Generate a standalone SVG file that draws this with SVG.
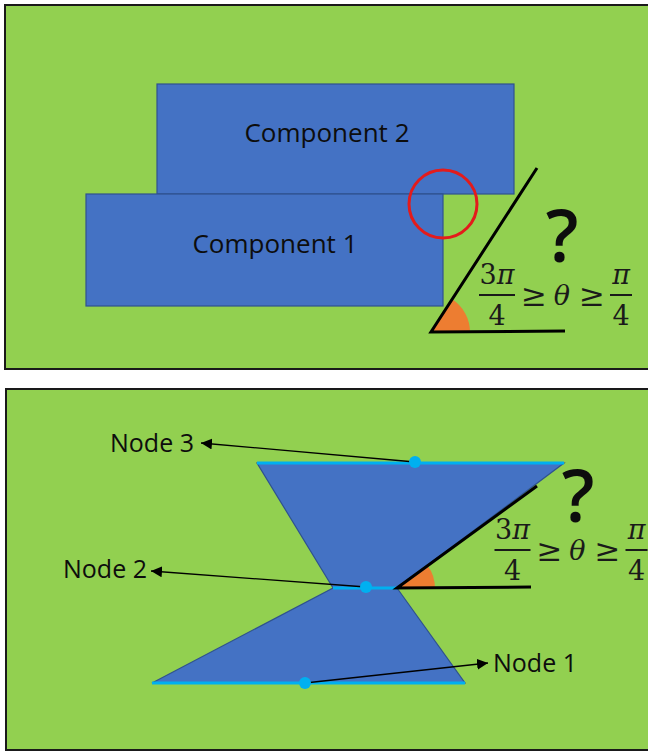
<svg xmlns="http://www.w3.org/2000/svg" width="648" height="751" viewBox="0 0 648 751">
<style>
.panel{fill:#92D050;stroke:#1a1a1a;stroke-width:2}
.comp{fill:#4472C4;stroke:#2F528F;stroke-width:1.2}
.lbl{font-family:"Open Sans","Liberation Sans",sans-serif;fill:#0d0d0d}
.math{font-family:"DejaVu Serif","Liberation Serif",serif;fill:#1a1a1a;font-size:27px}
.rel{font-size:31px}
.it{font-style:italic}
.q{font-family:"Open Sans","Liberation Sans",sans-serif;font-weight:600;font-size:72px;fill:#0d0d0d}
.ray{stroke:#000;stroke-width:3;fill:none}
.wedge{fill:#ED7D31}
.edge{stroke:#00B0F0;stroke-width:3;fill:none}
.dot{fill:#00B0F0}
.arrow{stroke:#000;stroke-width:1.3;fill:none;marker-end:url(#ah)}
</style>
<defs>
<marker id="ah" viewBox="0 0 10 10" refX="10" refY="5" markerWidth="11" markerHeight="11" markerUnits="userSpaceOnUse" orient="auto">
<path d="M0,0 L10,5 L0,10 Z" fill="#000"/>
</marker>
<g id="ineq">
<text class="math" x="497" y="284" text-anchor="middle">3<tspan class="it">π</tspan></text>
<line x1="479" y1="295" x2="515" y2="295" stroke="#1a1a1a" stroke-width="2"/>
<text class="math" x="497" y="325" text-anchor="middle">4</text>
<text class="math rel" x="534" y="306" text-anchor="middle">≥</text>
<text class="math it" x="562" y="305" text-anchor="middle">θ</text>
<text class="math rel" x="592" y="306" text-anchor="middle">≥</text>
<text class="math it" x="621" y="284" text-anchor="middle">π</text>
<line x1="610" y1="295" x2="632" y2="295" stroke="#1a1a1a" stroke-width="2"/>
<text class="math" x="621" y="325" text-anchor="middle">4</text>
</g>
</defs>
<rect width="648" height="751" fill="#fff"/>

<!-- Top panel -->
<rect id="panel-top" class="panel" x="5" y="5" width="700" height="364"/>
<g id="component2">
<rect class="comp" x="157" y="84" width="357" height="110"/>
<text class="lbl" x="327" y="142" font-size="26" text-anchor="middle">Component 2</text>
</g>
<g id="component1">
<rect class="comp" x="86" y="194" width="357" height="112"/>
<text class="lbl" x="275" y="253" font-size="26" text-anchor="middle">Component 1</text>
</g>
<g id="contact-circle">
<circle cx="443" cy="204" r="34" fill="none" stroke="#E31B1B" stroke-width="3"/>
</g>
<g id="angle-top">
<path class="wedge" d="M431,332 L470,332 A39,39 0 0,0 452.2,299.3 Z"/>
<path class="ray" d="M537,168 L431,332 L565,331"/>
<text class="q" x="562" y="262" text-anchor="middle">?</text>
<use href="#ineq"/>
</g>

<!-- Bottom panel -->
<rect id="panel-bottom" class="panel" x="6" y="389" width="700" height="361"/>
<g id="hourglass">
<polygon class="comp" points="257,463 564,463 397,588 465,683 152,683 333,588"/>
<line class="edge" x1="257" y1="463" x2="564" y2="463"/>
<line class="edge" x1="333" y1="588" x2="397" y2="588"/>
<line class="edge" x1="152" y1="683" x2="465" y2="683"/>
</g>
<g id="angle-bottom">
<path class="wedge" d="M397,588 L435,588 A38,38 0 0,0 427.5,565.4 Z"/>
<path class="ray" d="M537,486 L397,588 L531,587"/>
<text class="q" x="578" y="522" text-anchor="middle">?</text>
<use href="#ineq" transform="translate(15.5,255)"/>
</g>
<g id="connectors">
<line class="arrow" x1="415" y1="462" x2="201" y2="443"/>
<line class="arrow" x1="366" y1="587" x2="151" y2="571"/>
<line class="arrow" x1="305" y1="683" x2="488" y2="663"/>
</g>
<g id="node3">
<circle class="dot" cx="415" cy="462" r="6"/>
<text class="lbl" x="110" y="452" font-size="25">Node 3</text>
</g>
<g id="node2">
<circle class="dot" cx="366" cy="587" r="6"/>
<text class="lbl" x="63" y="578" font-size="25">Node 2</text>
</g>
<g id="node1">
<circle class="dot" cx="305" cy="683" r="6"/>
<text class="lbl" x="493" y="672" font-size="25">Node 1</text>
</g>
</svg>
